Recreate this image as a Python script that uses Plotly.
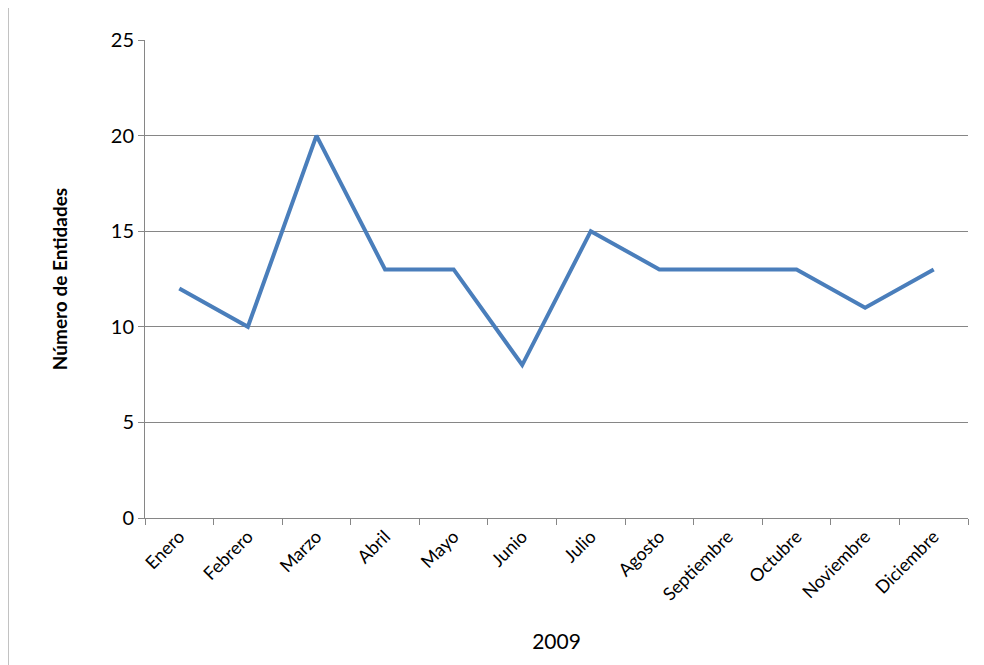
import plotly.graph_objects as go

months = ["Enero", "Febrero", "Marzo", "Abril", "Mayo", "Junio", "Julio",
          "Agosto", "Septiembre", "Octubre", "Noviembre", "Diciembre"]
entidades = [12, 10, 20, 13, 13, 8, 15, 13, 13, 13, 11, 13]

fig = go.Figure()
fig.add_trace(go.Scatter(x=months, y=entidades, mode="lines",
                         line=dict(color="#4A7EBB", width=4)))

font = "Lato, Open Sans, sans-serif"
fig.update_layout(
    width=984, height=665,
    margin=dict(l=137, r=24, t=32, b=155),
    paper_bgcolor="white", plot_bgcolor="white",
    showlegend=False,
    font=dict(family=font, size=17, color="black"),
)
fig.update_xaxes(
    type="category", tickson="boundaries", ticks="outside", ticklen=6,
    tickcolor="#868686", showline=True, linecolor="#868686", showgrid=False,
    tickangle=-45, tickfont=dict(size=18),
    title=dict(text="2009", font=dict(size=21), standoff=30),
    range=[-0.5, 11.5],
)
fig.update_yaxes(
    range=[0, 25], dtick=5, ticks="outside", ticklen=6, tickcolor="#868686",
    showline=True, linecolor="#868686", gridcolor="#868686", gridwidth=1,
    zeroline=False, tickfont=dict(size=20),
    title=dict(text="<b>Número de Entidades</b>", font=dict(size=19), standoff=38),
)
fig.add_shape(type="rect", xref="paper", yref="paper",
              x0=-137/823, x1=1+15/823, y0=-152/478, y1=1+39/478,
              line=dict(color="#868686", width=1))
fig.write_html("out.html")
